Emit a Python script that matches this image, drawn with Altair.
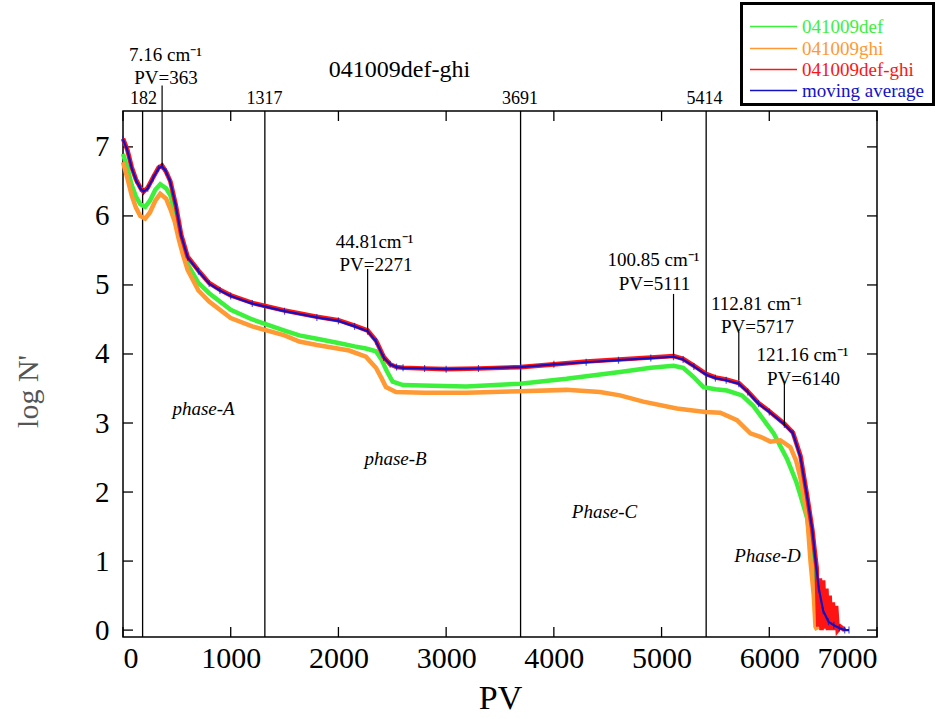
import altair as alt
import pandas as pd

FONT = "Liberation Serif"
W, H = 754, 526
XMAX = 7000
YMIN, YMAX = -0.1, 7.52

series_names = ["041009def", "041009ghi", "041009def-ghi", "moving average"]
series_colors = ["#3cf03c", "#ff9933", "#ff1414", "#1212c4"]

# 041009def (green)
pv_def = [0, 40, 80, 120, 160, 206, 250, 300, 346, 400, 440, 480, 517, 560, 600, 700, 800,
          1000, 1200, 1500, 1637, 1800, 2000, 2150, 2255, 2348, 2400, 2450, 2503, 2600, 2875,
          3186, 3689, 4117, 4614, 4900, 5111, 5200, 5296, 5389, 5500, 5607, 5747, 5850, 5917,
          6041, 6165, 6250, 6290, 6352, 6383, 6413, 6430, 6440]
logn_def = [6.90, 6.70, 6.45, 6.28, 6.17, 6.13, 6.22, 6.38, 6.46, 6.40, 6.30, 6.05, 5.77, 5.50,
            5.30, 5.03, 4.88, 4.64, 4.50, 4.34, 4.27, 4.22, 4.16, 4.11, 4.08, 4.04, 3.92, 3.75,
            3.60, 3.55, 3.54, 3.53, 3.57, 3.64, 3.74, 3.80, 3.83, 3.80, 3.67, 3.52, 3.49, 3.47,
            3.40, 3.25, 3.11, 2.85, 2.48, 2.15, 1.95, 1.62, 1.23, 0.75, 0.30, 0.02]

# 041009ghi (orange)
pv_ghi = [0, 40, 80, 120, 160, 206, 250, 300, 346, 400, 440, 480, 520, 560, 600, 700, 800,
          1000, 1200, 1500, 1637, 1800, 2100, 2255, 2348, 2400, 2441, 2534, 2800, 3186, 3689,
          4117, 4427, 4614, 4830, 5141, 5405, 5545, 5700, 5824, 5917, 6010, 6103, 6196, 6250,
          6290, 6352, 6383, 6413, 6429, 6445]
logn_ghi = [6.78, 6.55, 6.30, 6.12, 6.00, 5.96, 6.05, 6.22, 6.32, 6.25, 6.10, 5.92, 5.65, 5.42,
            5.22, 4.92, 4.76, 4.52, 4.40, 4.27, 4.18, 4.13, 4.05, 3.96, 3.80, 3.65, 3.52, 3.45,
            3.44, 3.44, 3.46, 3.48, 3.45, 3.40, 3.31, 3.21, 3.16, 3.15, 3.04, 2.85, 2.80, 2.73,
            2.75, 2.65, 2.45, 2.20, 1.66, 0.99, 0.50, 0.05, 0.00]

# 041009def-ghi (red, noisy)
pv_dg = [0, 40, 80, 120, 160, 190, 230, 280, 330, 363, 400, 440, 490, 540, 600, 700, 800, 900,
         1000, 1200, 1500, 1800, 2000, 2150, 2271, 2350, 2420, 2480, 2540, 2600, 2800, 3000,
         3300, 3691, 4000, 4300, 4600, 4900, 5111, 5200, 5300, 5414, 5500, 5600, 5717, 5800,
         5900, 6000, 6140, 6220, 6290, 6350, 6400, 6425, 6440, 6455, 6470, 6485, 6500, 6515,
         6530, 6545, 6560, 6575, 6590, 6605, 6620, 6635, 6660, 6700]
logn_dg = [7.12, 6.96, 6.71, 6.53, 6.41, 6.35, 6.41, 6.56, 6.70, 6.73, 6.64, 6.50, 6.16, 5.73,
           5.41, 5.21, 5.03, 4.93, 4.85, 4.74, 4.63, 4.54, 4.49, 4.41, 4.34, 4.19, 3.96, 3.85,
           3.81, 3.80, 3.79, 3.78, 3.79, 3.81, 3.85, 3.89, 3.92, 3.95, 3.97, 3.93, 3.83, 3.71,
           3.66, 3.63, 3.58, 3.46, 3.29, 3.17, 2.99, 2.86, 2.52, 1.96, 1.45, 1.10, 0.90, 0.05,
           0.75, 0.00, 0.72, 0.02, 0.60, 0.00, 0.50, 0.00, 0.40, 0.00, 0.35, 0.00, 0.05, 0.00]

# moving average (blue)
pv_avg = [0, 40, 80, 120, 160, 190, 230, 280, 330, 363, 400, 440, 490, 540, 600, 700, 800, 900,
          1000, 1200, 1500, 1800, 2000, 2150, 2271, 2350, 2420, 2480, 2540, 2600, 2800, 3000,
          3300, 3691, 4000, 4300, 4600, 4900, 5111, 5200, 5300, 5414, 5500, 5600, 5717, 5800,
          5900, 6000, 6140, 6220, 6290, 6350, 6400, 6430, 6460, 6500, 6550, 6600, 6650, 6700,
          6740]
logn_avg = [7.11, 6.95, 6.70, 6.52, 6.40, 6.35, 6.40, 6.55, 6.69, 6.72, 6.64, 6.49, 6.15, 5.72,
            5.40, 5.20, 5.02, 4.92, 4.84, 4.73, 4.62, 4.53, 4.48, 4.40, 4.33, 4.18, 3.95, 3.85,
            3.81, 3.80, 3.79, 3.78, 3.79, 3.81, 3.85, 3.88, 3.91, 3.94, 3.96, 3.92, 3.82, 3.70,
            3.65, 3.62, 3.57, 3.45, 3.28, 3.16, 2.98, 2.85, 2.50, 1.95, 1.45, 1.00, 0.60, 0.28,
            0.12, 0.07, 0.03, 0.00, 0.00]

x_ticks = [0, 1000, 2000, 3000, 4000, 5000, 6000, 7000]
y_ticks = [0, 1, 2, 3, 4, 5, 6, 7]

phase_lines = [182, 1317, 3691, 5414]

# annotation leader lines: PV, from, to
ann_pv = [363, 2271, 5111, 5717, 6140]
ann_top = [7.89, 5.23, 4.87, 4.32, 3.57]
ann_bot = [6.73, 4.34, 3.98, 3.62, 2.96]
ann_line1 = ["7.16 cm\u207b\u00b9", "44.81cm\u207b\u00b9", "100.85 cm\u207b\u00b9",
             "112.81 cm\u207b\u00b9", "121.16 cm\u207b\u00b9"]
ann_line2 = ["PV=363", "PV=2271", "PV=5111", "PV=5717", "PV=6140"]

phase_labels = ["phase-A", "phase-B", "Phase-C", "Phase-D"]

title_text = "041009def-ghi"

# ---------------------------------------------------------------
x_enc = alt.X("PV:Q", scale=alt.Scale(domain=[0, XMAX], nice=False, zero=False),
              axis=alt.Axis(values=x_ticks, format="d", title="PV", ticks=False,
                            domain=False, grid=False,
                            labelFont=FONT, labelFontSize=30, labelColor="black",
                            labelPadding=6, titleFont=FONT, titleFontSize=34,
                            titleFontWeight="normal", titleColor="black", titlePadding=8))
y_enc = alt.Y("logN:Q", scale=alt.Scale(domain=[YMIN, YMAX], nice=False, zero=False),
              axis=alt.Axis(values=y_ticks, title="log N'", ticks=False, domain=False,
                            grid=False, labelFont=FONT, labelFontSize=29, labelColor="black",
                            labelPadding=14, titleFont=FONT, titleFontSize=30,
                            titleFontWeight="normal", titleColor="#555555",
                            titleX=-95, titleY=280, titleAngle=270,
                            titleBaseline="middle", titleAlign="center"))

layers = []

# vertical phase boundaries
layers.append(alt.Chart(pd.DataFrame({"PV": phase_lines})).mark_rule(
    color="black", strokeWidth=1.3).encode(x=x_enc))

# inner ticks
xt = pd.DataFrame({"PV": x_ticks})
yt = pd.DataFrame({"logN": y_ticks})
layers.append(alt.Chart(xt).mark_rule(color="black", strokeWidth=1.3).encode(
    x=x_enc, y=alt.value(H), y2=alt.value(H - 10)))
layers.append(alt.Chart(xt).mark_rule(color="black", strokeWidth=1.3).encode(
    x=x_enc, y=alt.value(0), y2=alt.value(10)))
layers.append(alt.Chart(yt).mark_rule(color="black", strokeWidth=1.3).encode(
    y=y_enc, x=alt.value(0), x2=alt.value(10)))
layers.append(alt.Chart(yt).mark_rule(color="black", strokeWidth=1.3).encode(
    y=y_enc, x=alt.value(W), x2=alt.value(W - 10)))

# data series
series_data = [(pv_def, logn_def, 4.5), (pv_ghi, logn_ghi, 4.5), (pv_dg, logn_dg, 4.6),
               (pv_avg, logn_avg, 2.2)]
for (pv, ln, sw), name, col in zip(series_data, series_names, series_colors):
    df = pd.DataFrame({"PV": pv, "logN": ln, "series": name})
    layers.append(alt.Chart(df).mark_line(color=col, strokeWidth=sw, strokeJoin="miter")
                  .encode(x=x_enc, y=y_enc, order="PV:Q"))

# moving-average markers
avg_df = pd.DataFrame({"PV": pv_avg, "logN": logn_avg})
layers.append(alt.Chart(avg_df).mark_tick(color=series_colors[3], thickness=1.2, size=7,
                                          orient="vertical")
              .encode(x=x_enc, y=y_enc))

# annotation leader lines
ann_df = pd.DataFrame({"PV": ann_pv, "logN": ann_top, "logN2": ann_bot})
layers.append(alt.Chart(ann_df).mark_rule(color="black", strokeWidth=1.2).encode(
    x=x_enc, y=y_enc, y2="logN2:Q"))

one = pd.DataFrame({"a": [0]})

def txt(s, x, y, size=20, style="normal", color="black", align="center"):
    return alt.Chart(one).mark_text(text=s, font=FONT, fontSize=size, fontStyle=style,
                                    color=color, align=align, baseline="middle").encode(
        x=alt.value(x), y=alt.value(y))

# top labels of phase boundaries
top_lab_x = [20.5, 141.5, 397, 581.5]
for v, px in zip(phase_lines, top_lab_x):
    layers.append(txt(str(v), px, -12, size=18))

# annotation texts
ann_pos1 = [(42.5, -56), (251.5, 130.5), (530.5, 149), (633.5, 192.5), (679.5, 244)]
ann_pos2 = [(43, -33), (253, 154), (531.5, 172.5), (634.5, 216), (680.5, 267.5)]
for s, (px, py) in zip(ann_line1, ann_pos1):
    layers.append(txt(s, px, py, size=19))
for s, (px, py) in zip(ann_line2, ann_pos2):
    layers.append(txt(s, px, py, size=19))

# phase labels
phase_pos = [(80.5, 298), (272.5, 348), (481.5, 401), (644.5, 445)]
for s, (px, py) in zip(phase_labels, phase_pos):
    layers.append(txt(s, px, py, size=19, style="italic"))

# title
layers.append(txt(title_text, 276.5, -41, size=24))

# legend box
layers.append(alt.Chart(one).mark_rect(fill="white", stroke="black", strokeWidth=3).encode(
    x=alt.value(618.5), x2=alt.value(810.5), y=alt.value(-107.5), y2=alt.value(-6.5)))
leg_rows = [-84.5, -62.5, -41.5, -20.5]
for name, col, ry in zip(series_names, series_colors, leg_rows):
    layers.append(alt.Chart(one).mark_rule(color=col, strokeWidth=1.6).encode(
        x=alt.value(627), x2=alt.value(674), y=alt.value(ry)))
    layers.append(txt(name, 679, ry, size=19, color=col, align="left"))

chart = alt.layer(*layers).properties(
    width=W, height=H,
    autosize=alt.AutoSizeParams(type="none"),
    padding={"left": 123, "top": 111, "right": 59, "bottom": 82},
    background="white",
).configure_view(stroke="black", strokeWidth=1.5)

chart.save("out.html", embed_options={"renderer": "svg", "actions": False})
